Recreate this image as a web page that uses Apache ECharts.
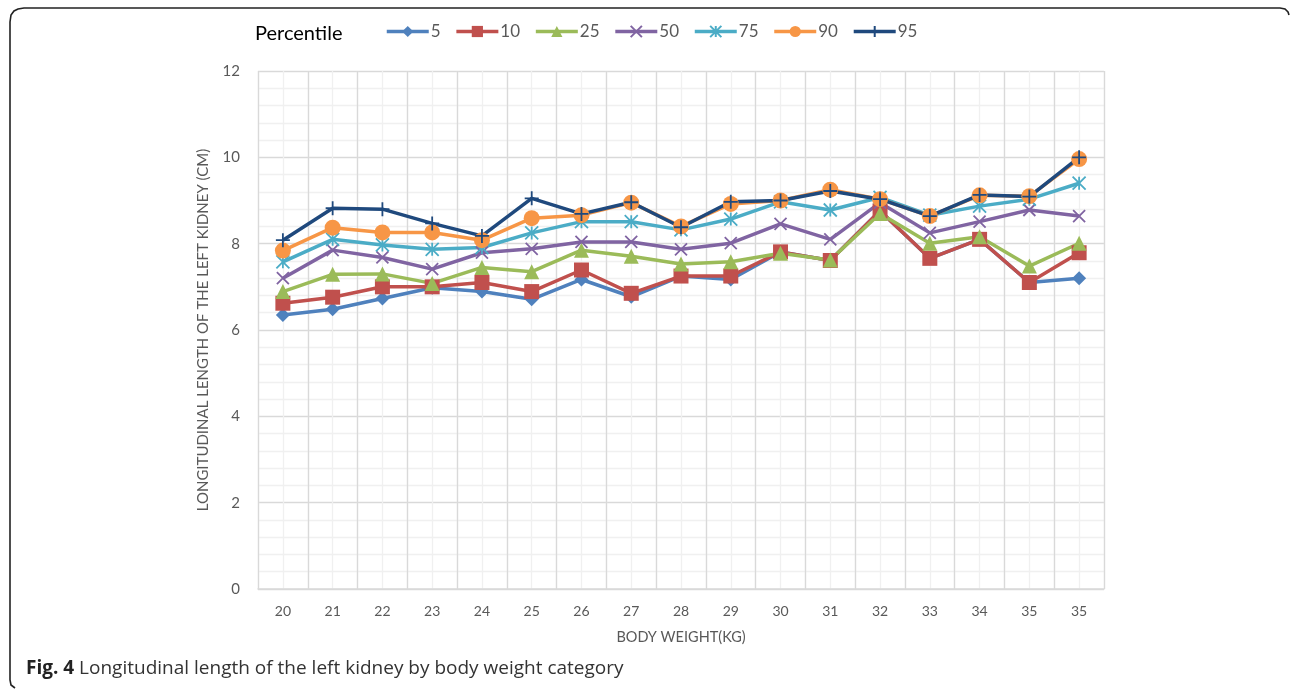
<!DOCTYPE html>
<html>
<head>
<meta charset="utf-8">
<script src="https://cdn.jsdelivr.net/npm/echarts@6/dist/echarts.min.js"></script>
<style>
  html, body { margin: 0; padding: 0; background: #fff; }
  #chart { width: 1292px; height: 691px; }
</style>
</head>
<body>
<div id="chart"></div>
<script>
var weights = ['20', '21', '22', '23', '24', '25', '26', '27', '28', '29', '30', '31', '32', '33', '34', '35', '35'];
var p5  = [6.35, 6.48, 6.73, 6.98, 6.89, 6.71, 7.17, 6.77, 7.25, 7.17, 7.81, 7.61, 8.76, 7.66, 8.10, 7.10, 7.20];
var p10 = [6.62, 6.76, 7.00, 7.00, 7.10, 6.89, 7.39, 6.85, 7.25, 7.25, 7.81, 7.61, 8.76, 7.66, 8.10, 7.10, 7.79];
var p25 = [6.89, 7.29, 7.30, 7.08, 7.45, 7.35, 7.85, 7.71, 7.53, 7.58, 7.78, 7.62, 8.70, 8.01, 8.16, 7.48, 8.01];
var p50 = [7.20, 7.85, 7.68, 7.41, 7.79, 7.88, 8.04, 8.04, 7.87, 8.01, 8.46, 8.10, 8.95, 8.25, 8.51, 8.78, 8.64];
var p75 = [7.58, 8.10, 7.97, 7.87, 7.91, 8.25, 8.51, 8.51, 8.32, 8.57, 8.97, 8.78, 9.07, 8.66, 8.87, 9.03, 9.40];
var p90 = [7.84, 8.37, 8.26, 8.26, 8.08, 8.59, 8.66, 8.95, 8.40, 8.92, 9.00, 9.25, 9.03, 8.64, 9.12, 9.10, 9.96];
var p95 = [8.08, 8.82, 8.80, 8.47, 8.18, 9.05, 8.69, 8.96, 8.38, 8.97, 9.00, 9.22, 9.03, 8.64, 9.13, 9.09, 10.0];

(function() {
  var font = 'Lato, "Open Sans", sans-serif';
  var muted = '#595959';

  var crossPath = 'path://M0,0L10,10M10,0L0,10';
  var starPath = 'path://M0,0L10,10M10,0L0,10M5,0L5,10';
  var plusPath = 'path://M5,0L5,10M0,5L10,5';

  function line(name, data, color, symbol, size, stroked) {
    return {
      name: name,
      type: 'line',
      data: data,
      symbol: symbol,
      symbolSize: size,
      showAllSymbol: true,
      lineStyle: { color: color, width: 3.5 },
      itemStyle: stroked
        ? { color: color, borderColor: color, borderWidth: 1.8 }
        : { color: color, borderWidth: 0 },
      emphasis: { disabled: true }
    };
  }

  // frame round the figure (left and top edges only, as in the source)
  var frame = [
    [15, 688], [11, 685], [10, 680], [10, 22], [11, 15], [14, 11], [18, 9], [24, 8],
    [1280, 8], [1285, 9], [1288, 12], [1289, 15]
  ];

  var chart = echarts.init(document.getElementById('chart'), null, { renderer: 'canvas' });
  chart.setOption({
    animation: false,
    backgroundColor: '#fff',
    textStyle: { fontFamily: font },
    graphic: [
      {
        type: 'polyline',
        shape: { points: frame },
        style: { fill: null, stroke: '#222', lineWidth: 1.6 }
      },
      {
        type: 'text',
        left: 255,
        top: 24,
        style: { text: 'Percentile', font: '20px ' + font, fill: '#000' }
      },
      {
        type: 'text',
        left: 26,
        top: 659,
        style: {
          text: '{b|Fig. 4} Longitudinal length of the left kidney by body weight category',
          font: '19px "Open Sans", sans-serif',
          fill: '#333',
          rich: {
            b: { fontWeight: 'bold', fontSize: 19, fontFamily: '"Open Sans", sans-serif', fill: '#222' }
          }
        }
      }
    ],
    legend: {
      left: 385,
      top: 23,
      padding: 0,
      itemWidth: 42,
      itemHeight: 14,
      itemGap: 14,
      lineStyle: { width: 3.5 },
      textStyle: { color: muted, fontSize: 17, fontFamily: font, padding: [0, 0, 0, -3] },
      data: ['5', '10', '25', '50', '75', '90', '95']
    },
    grid: { left: 258, right: 188, top: 71, bottom: 102 },
    xAxis: [
      {
        type: 'category',
        data: weights,
        boundaryGap: true,
        name: 'BODY WEIGHT(KG)',
        nameLocation: 'middle',
        nameGap: 41,
        nameTextStyle: { color: muted, fontSize: 14.5, fontFamily: font },
        axisLine: { lineStyle: { color: '#d9d9d9', width: 1.5 } },
        axisTick: { show: false },
        axisLabel: { color: muted, fontSize: 14, margin: 15 },
        splitLine: { show: true, lineStyle: { color: '#d9d9d9', width: 1.3 } },
        z: 3
      },
      {
        type: 'value',
        min: 0,
        max: 17,
        interval: 0.5,
        position: 'top',
        axisLine: { show: false },
        axisTick: { show: false },
        axisLabel: { show: false },
        splitLine: { show: true, lineStyle: { color: '#f0f0f0', width: 1.3 } },
        z: 1
      }
    ],
    yAxis: {
      type: 'value',
      min: 0,
      max: 12,
      interval: 2,
      name: 'LONGITUDINAL LENGTH OF THE LEFT KIDNEY (CM)',
      nameLocation: 'middle',
      nameGap: 47,
      nameTextStyle: { color: muted, fontSize: 15, fontFamily: font },
      axisLine: { show: false },
      axisTick: { show: false },
      axisLabel: { color: muted, fontSize: 15, margin: 18 },
      splitLine: { lineStyle: { color: '#d9d9d9', width: 1.3 } },
      minorTick: { show: false, splitNumber: 5 },
      minorSplitLine: { show: true, lineStyle: { color: '#f0f0f0', width: 1.3 } }
    },
    series: [
      line('5', p5, '#4f81bd', 'diamond', 14, false),
      line('10', p10, '#c0504d', 'rect', 15, false),
      line('25', p25, '#9bbb59', 'triangle', 15, false),
      line('50', p50, '#8064a2', crossPath, 12, true),
      line('75', p75, '#4bacc6', starPath, 13, true),
      line('90', p90, '#f79646', 'circle', 16, false),
      line('95', p95, '#1f497d', plusPath, 14, true)
    ]
  });
  window.addEventListener('resize', function() { chart.resize(); });
})();
</script>
</body>
</html>
